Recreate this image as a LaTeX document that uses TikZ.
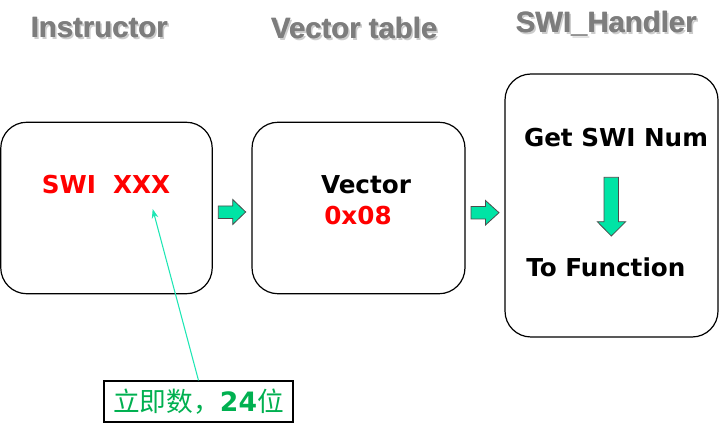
\documentclass[tikz,border=0pt]{standalone}
\usepackage{fontspec}
\newfontfamily\bodyfont{DejaVu Sans}
\newfontfamily\titlefont{Liberation Sans}
\newfontfamily\cjk{Noto Sans CJK SC}
\usetikzlibrary{arrows.meta}
\definecolor{mint}{RGB}{0,228,165}
\definecolor{mintline}{RGB}{30,230,180}
\definecolor{lblgreen}{RGB}{0,176,80}
\definecolor{ttlgray}{RGB}{125,125,125}
\tikzset{
  box/.style={draw=black, line width=0.9pt, rounded corners=19.5pt, inner sep=0pt},
  ttl/.style={font=\titlefont\bfseries\fontsize{22}{26}\selectfont, text=ttlgray, inner sep=0pt},
  ttlshadow/.style={font=\titlefont\bfseries\fontsize{22}{26}\selectfont, text=gray!40, inner sep=0pt},
  body/.style={font=\bodyfont\bfseries\fontsize{18.5}{22}\selectfont, inner sep=0pt},
  blockarrow/.style={fill=mint, draw=black!70, line width=0.6pt, line join=miter},
  lbl/.style={draw=black, line width=0.9pt, inner sep=0pt, minimum width=141.75pt, minimum height=30.75pt, text=lblgreen},
}
\begin{document}
\begin{tikzpicture}[x=0.75pt,y=-0.75pt]
\useasboundingbox (0,0) rectangle (725,434);
% titles (shadow, then text drawn twice for extra weight)
\node[ttlshadow] at (101,30) {Instructor};
\node[ttl] at (99.5,28) {Instructor};
\node[ttl] (t1) at (99,28) {Instructor};
\node[ttlshadow] at (356,30) {Vector table};
\node[ttl] at (354.5,28) {Vector table};
\node[ttl] (t2) at (354,28) {Vector table};
\node[ttlshadow] at (608,26) {SWI\_Handler};
\node[ttl] at (606.5,24) {SWI\_Handler};
\node[ttl] (t3) at (606,24) {SWI\_Handler};
% boxes
\node[box, minimum width=158.6pt, minimum height=128.6pt] (b1) at (106.5,208) {};
\node[box, minimum width=159.75pt, minimum height=128.6pt] (b2) at (358.5,208) {};
\node[box, minimum width=159.75pt, minimum height=197.25pt] (b3) at (611.5,205.5) {};
% texts
\node[body, text=red] (swi) at (106,185) {SWI\ \ XXX};
\node[body] (vec) at (366,185) {Vector};
\node[body, text=red, anchor=west] (addr) at (324,216) {0x08};
\node[body] (get) at (616,138) {Get SWI Num};
\node[body, anchor=west] (tofn) at (526,267) {To Function};
% block arrows
\draw[blockarrow] (218.3,206) -- (232.7,206) -- (232.7,199.5) -- (245.7,212) -- (232.7,224.5) -- (232.7,218.5) -- (218.3,218.5) -- cycle;
\draw[blockarrow] (471,206.5) -- (485.5,206.5) -- (485.5,200.5) -- (499,212.7) -- (485.5,225) -- (485.5,219) -- (471,219) -- cycle;
\draw[blockarrow] (604,177.3) -- (618.5,177.3) -- (618.5,221.7) -- (625.7,221.7) -- (611.3,236) -- (597.3,221.7) -- (604,221.7) -- cycle;
% label
\node[lbl] (lab) at (198.5,401.5) {\cjk\fontsize{20}{24}\selectfont 立即数，{\bodyfont\bfseries 24}位};
\coordinate (tip) at (152.7,209);
\draw[mintline, line width=0.8pt, -{Stealth[length=7pt,width=5pt]}] (lab.north) -- (tip);
\end{tikzpicture}
\end{document}
